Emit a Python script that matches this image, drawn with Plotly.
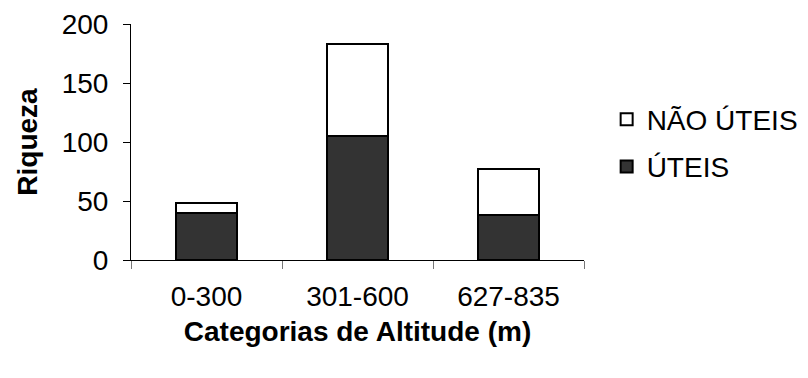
import plotly.graph_objects as go

categories = ["0-300", "301-600", "627-835"]
uteis = [40, 105, 38]
nao_uteis = [8, 78, 39]

FONT = "Liberation Sans, Arial, sans-serif"

fig = go.Figure()
fig.add_trace(go.Bar(
    x=categories, y=uteis, name="ÚTEIS", legendgroup="a", legendrank=2,
    marker=dict(color="#333333", line=dict(color="black", width=2)),
))
fig.add_trace(go.Bar(
    x=categories, y=nao_uteis, name="NÃO ÚTEIS", legendgroup="b", legendrank=1,
    marker=dict(color="white", line=dict(color="black", width=2)),
))

fig.update_layout(
    width=808, height=378,
    margin=dict(l=131, r=224, t=24, b=118, autoexpand=False),
    barmode="stack", bargap=0.6,
    plot_bgcolor="white", paper_bgcolor="white",
    font=dict(family=FONT, color="black", size=28),
    showlegend=True,
    legend=dict(
        x=1.05, xanchor="left", y=0.496, yanchor="middle",
        traceorder="grouped", tracegroupgap=8,
        font=dict(size=28, family=FONT), bgcolor="rgba(0,0,0,0)",
    ),
    xaxis=dict(
        range=[-0.5, 2.5], showline=True, linecolor="black", linewidth=1,
        ticks="outside", tickson="boundaries", ticklen=8, tickcolor="#777777",
        ticklabelstandoff=11, showgrid=False,
        tickfont=dict(size=28, family=FONT),
        title=dict(text="<b>Categorias de Altitude (m)</b>", font=dict(size=28, family=FONT), standoff=10),
    ),
    yaxis=dict(
        range=[0, 200], tickvals=[0, 50, 100, 150, 200], showline=True,
        linecolor="black", linewidth=1, ticks="outside", ticklen=7, tickcolor="black",
        ticklabelstandoff=9, showgrid=False, zeroline=False,
        tickfont=dict(size=28, family=FONT),
        title=dict(text="<b>Riqueza</b>", font=dict(size=28, family=FONT), standoff=15),
    ),
)

fig.write_html("out.html")
